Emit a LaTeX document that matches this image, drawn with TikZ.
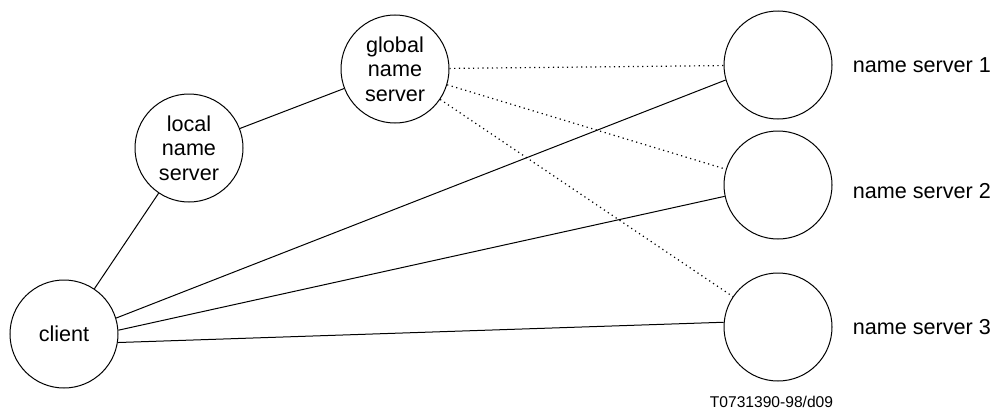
\documentclass[tikz,border=0pt]{standalone}
\usepackage{fontspec}
\setmainfont{Liberation Sans}
\usetikzlibrary{positioning}

\begin{document}
\begin{tikzpicture}[x=0.5pt,y=-0.5pt,
    server/.style={draw,circle,minimum size=54pt,inner sep=0pt,align=center,line width=0.5pt,font=\fontsize{10.8}{12.2}\selectfont},
    srvname/.style={inner sep=0pt,font=\fontsize{10.8}{12.2}\selectfont},
    link/.style={line width=0.5pt},
    query/.style={line width=0.6pt,dash pattern=on 0.6pt off 1.75pt}]
\useasboundingbox (0,0) rectangle (995,412);
    \node[server] (client) at (64,334) {client};
    \node[server] (local) at (189,148) {local\\name\\server};
    \node[server] (global) at (395,69) {global\\name\\server};
    \node[server] (ns1) at (778,65) {};
    \node[server] (ns2) at (778,185) {};
    \node[server] (ns3) at (778,327) {};
    \node[srvname] (name1) [right=10pt of ns1] {name server 1};
    \node[srvname] (name2) [right=10pt of ns2,yshift=-3pt] {name server 2};
    \node[srvname] (name3) [right=10pt of ns3] {name server 3};
    \node[inner sep=0pt,font=\fontsize{7.8}{9}\selectfont] (code) at (771.5,402) {T0731390-98/d09};
    \draw[link] (client) -- (local);
    \draw[link] (local) -- (global);
    \draw[link] (client.17) -- (ns1.196);
    \draw[link] (client.4) -- (ns2.192);
    \draw[link] (client.-9) -- (ns3.175);
    \draw[query] (global) -- (ns1);
    \draw[query] (global) -- (ns2);
    \draw[query] (global) -- (ns3);
\end{tikzpicture}
\end{document}
